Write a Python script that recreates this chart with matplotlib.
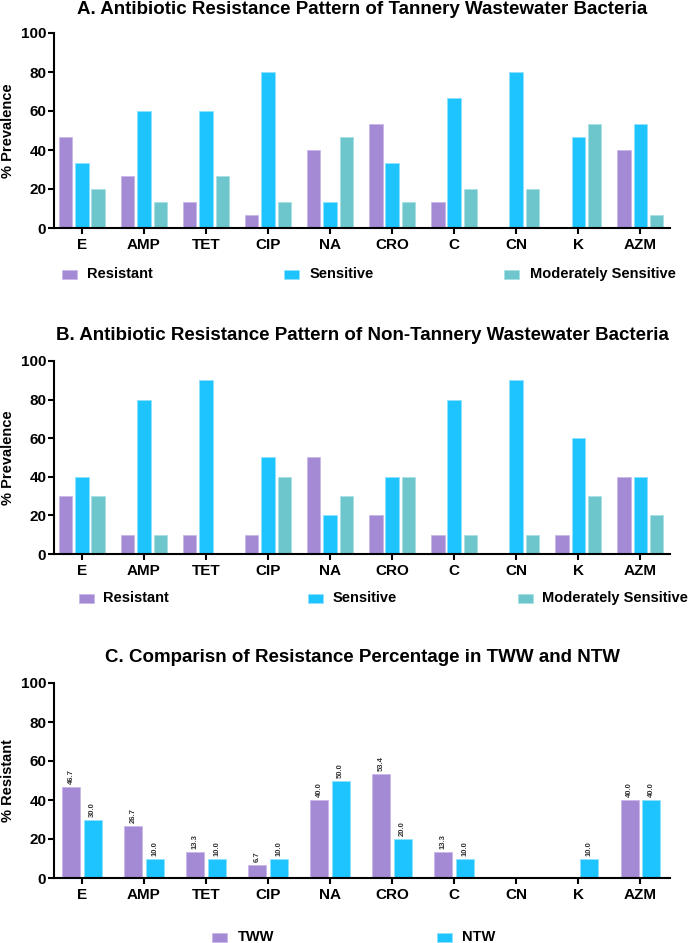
import matplotlib
matplotlib.use("Agg")
import matplotlib.pyplot as plt
from matplotlib.patches import Rectangle
import numpy as np

plt.rcParams['font.family'] = ['Liberation Sans', 'DejaVu Sans']

categories = ["E", "AMP", "TET", "CIP", "NA", "CRO", "C", "CN", "K", "AZM"]

# Panel A: tannery wastewater
a_resistant = [46.7, 26.7, 13.3, 6.7, 40.0, 53.3, 13.3, 0.0, 0.0, 40.0]
a_sensitive = [33.3, 60.0, 60.0, 80.0, 13.3, 33.3, 66.7, 80.0, 46.7, 53.3]
a_moderate = [20.0, 13.3, 26.7, 13.3, 46.7, 13.3, 20.0, 20.0, 53.3, 6.7]

# Panel B: non-tannery wastewater
b_resistant = [30, 10, 10, 10, 50, 20, 10, 0, 10, 40]
b_sensitive = [40, 80, 90, 50, 20, 40, 80, 90, 60, 40]
b_moderate = [30, 10, 0, 40, 30, 40, 10, 10, 30, 20]

# Panel C: resistance comparison
c_tww = [46.7, 26.7, 13.3, 6.7, 40.0, 53.4, 13.3, 0.0, 0.0, 40.0]
c_ntw = [30.0, 10.0, 10.0, 10.0, 50.0, 20.0, 10.0, 0.0, 10.0, 40.0]

series_names_ab = ["Resistant", "Sensitive", "Moderately Sensitive"]
series_names_c = ["TWW", "NTW"]
titles = ["A. Antibiotic Resistance Pattern of Tannery Wastewater Bacteria",
          "B. Antibiotic Resistance Pattern of Non-Tannery Wastewater Bacteria",
          "C. Comparisn of Resistance Percentage in TWW and NTW"]
ylabels = ["% Prevalence", "% Prevalence", "% Resistant"]
yticks = [0, 20, 40, 60, 80, 100]

PURPLE = "#A48AD4"
BLUE = "#1DC4FF"
TEAL = "#6DC6CC"
EDGE = {PURPLE: "#C8B8EC", BLUE: "#8FE0FF", TEAL: "#A8E0E3"}

W, H = 692, 943
fig = plt.figure(figsize=(W / 100, H / 100), dpi=100)


def fx(px):
    return px / W


def fy(py):
    return 1 - py / H


def make_axes(top_px, bottom_px):
    left, right = 54, 670
    ax = fig.add_axes([fx(left), fy(bottom_px), (right - left) / W, (bottom_px - top_px) / H])
    ax.set_xlim(-0.45, 9.48)
    ax.set_ylim(0, 100)
    ax.set_yticks(yticks)
    ax.set_xticks(np.arange(len(categories)))
    ax.set_xticklabels(categories)
    for s in ["top", "right"]:
        ax.spines[s].set_visible(False)
    for s in ["left", "bottom"]:
        ax.spines[s].set_linewidth(1.5)
    ax.tick_params(axis="both", width=1.5, length=4, labelsize=11, pad=1.5)
    ax.tick_params(axis="x", pad=3, labelsize=11)
    for lab in ax.get_xticklabels() + ax.get_yticklabels():
        lab.set_fontweight("bold")
    return ax


def legend_row(y_px, items):
    for (px, tx, label, color) in items:
        fig.add_artist(Rectangle((fx(px), fy(y_px + 4.5)), 15 / W, 9 / H,
                                 transform=fig.transFigure, facecolor=color,
                                 edgecolor=EDGE[color], linewidth=0.6))
        fig.text(fx(tx), fy(y_px), label, fontsize=10.5, fontweight="bold",
                 va="center", ha="left")


x = np.arange(len(categories))

# ---- Panels A and B ----
panel_ab = [
    (33, 228, 10, a_resistant, a_sensitive, a_moderate, 274,
     [(62, 87), (284, 310), (504, 530)]),
    (361, 554, 335, b_resistant, b_sensitive, b_moderate, 598,
     [(79, 103), (308, 333), (518, 542)]),
]
for i, (top, bot, ty, r, s, m, ly, legpos) in enumerate(panel_ab):
    ax = make_axes(top, bot)
    bw = 0.215
    off = 0.262
    for vals, dx, col in [(r, -off, PURPLE), (s, 0, BLUE), (m, off, TEAL)]:
        ax.bar(x + dx, vals, width=bw, color=col, edgecolor=EDGE[col], linewidth=0.6)
    ax.set_ylabel(ylabels[i], fontsize=10.5, fontweight="bold")
    ax.yaxis.set_label_coords(-0.063, 0.5)
    fig.text(fx(362), fy(ty), titles[i], fontsize=13.5, fontweight="bold",
             ha="center", va="center")
    legend_row(ly, [(p, t, n, c) for (p, t), n, c in
                    zip(legpos, series_names_ab, [PURPLE, BLUE, TEAL])])

# ---- Panel C ----
ax = make_axes(683, 878)
bw = 0.29
off = 0.172
for vals, dx, col in [(c_tww, -off, PURPLE), (c_ntw, off, BLUE)]:
    bars = ax.bar(x + dx, vals, width=bw, color=col, edgecolor=EDGE[col], linewidth=0.6)
    for b, v in zip(bars, vals):
        if v > 0:
            ax.annotate(f"{v:.1f}", (b.get_x() + b.get_width() / 2, v),
                        xytext=(0, 2), textcoords="offset points",
                        rotation=90, ha="center", va="bottom",
                        fontsize=5.5, fontweight="bold", color="#333333")
ax.set_ylabel(ylabels[2], fontsize=10.5, fontweight="bold")
ax.yaxis.set_label_coords(-0.063, 0.5)
fig.text(fx(363), fy(658), titles[2], fontsize=13.5, fontweight="bold",
         ha="center", va="center")
legend_row(937, [(212, 238, series_names_c[0], PURPLE),
                 (437, 462, series_names_c[1], BLUE)])

fig.savefig("out.png", dpi=100)
